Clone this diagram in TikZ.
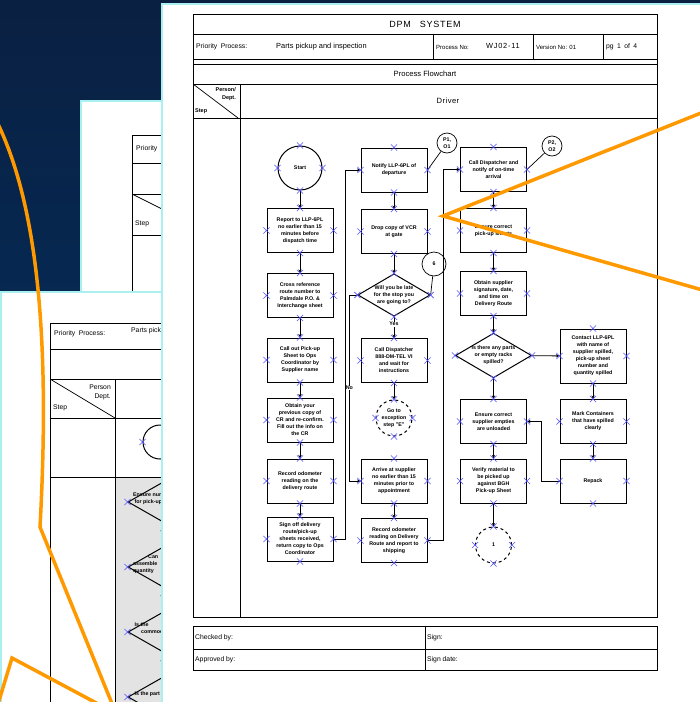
\documentclass[tikz,border=0pt]{standalone}
\usepackage{fontspec}
\setmainfont{Liberation Sans}
\usetikzlibrary{
    positioning,
    arrows.meta,
    shapes.geometric,
    shapes.misc,
}
\definecolor{navytop}{RGB}{10,32,66}
\definecolor{navybot}{RGB}{0,51,102}
\definecolor{pageedge}{RGB}{170,240,240}
\definecolor{callorange}{RGB}{255,153,0}
\definecolor{anchorblue}{RGB}{80,80,255}
\newcommand{\boxfont}{\fontsize{5.3}{7}\selectfont\bfseries}
\newcommand{\cellfont}{\fontsize{6.8}{8}\selectfont}
\tikzset{
    % Flowchart node styles
    flowbox/.style={rectangle, draw, line width=1pt, minimum width=66pt,
                    minimum height=44pt, inner sep=1pt, align=center, font=\boxfont},
    decision/.style={diamond, draw, line width=1pt, minimum width=71pt,
                     minimum height=42pt, inner sep=0pt, aspect=1.7, align=center, font=\boxfont},
    terminal/.style={circle, draw, line width=1pt, minimum size=44pt,
                     inner sep=0pt, align=center, font=\boxfont},
    refcircle/.style={circle, draw, line width=0.7pt, minimum size=20pt,
                      inner sep=0pt, align=center, font=\boxfont},
    xmark/.style={cross out, draw=anchorblue, minimum size=5.5pt, inner sep=0pt, line width=0.6pt},
    % Connector styles
    flow/.style={-{Stealth[length=3.5pt, width=3.2pt]}, line width=0.9pt},
    link/.style={line width=0.7pt},
    % Form styles
    page/.style={draw=pageedge, line width=2.5pt, fill=white},
    form/.style={line width=1pt},
    cell/.style={font=\cellfont, anchor=west, inner sep=1pt},
    orange line/.style={callorange, line width=3.5pt},
}

\begin{document}
\begin{tikzpicture}[x=1pt, y=-1pt]
    \useasboundingbox (0,0) rectangle (700,702);
    \clip (0,0) rectangle (700,702);
    \shade[top color=navytop, bottom color=navybot] (0,0) rectangle (700,702);

    % Back page
    \draw[page] (81,101) rectangle (720,720);
    \draw[form] (132,135) rectangle (720,720);
    \foreach \y in {163,194,235} {
        \draw[form] (132,\y) -- (720,\y);
    }
    \draw[link] (132,194) -- (172,214);
    \node[cell] at (135,149) {Priority};
    \node[cell] at (134,224) {Step};

    % Middle page
    \draw[page] (1,292) rectangle (720,720);
    \fill[gray!22] (115,477) rectangle (720,720);
    \draw[form] (50,323) rectangle (720,720);
    \foreach \y in {349,379,418,477} {
        \draw[form] (50,\y) -- (720,\y);
    }
    \draw[form] (115,379) -- (115,720);
    \draw[link] (50,379) -- (115,418);
    \node[cell] at (53,334) {Priority\enspace Process:};
    \node[cell] at (130,331) {Parts pickup and inspection};
    \node[cell, anchor=east] at (112,387) {Person};
    \node[cell, anchor=east] at (112,397) {Dept.};
    \node[cell] at (52,408) {Step};
    \node[terminal, minimum size=34pt] (ostart) at (160,442) {};
    \node[xmark] at (ostart.west) {};
    \foreach \y/\t in {502/{Ensure number\\\ for pick-up},
                       567/{\hspace{15pt}Can\\assemble\\quantity},
                       632/{\ Is the\\\hspace{8pt}commodity},
                       697/{\ Is the part}} {
        \node[decision, minimum width=84pt, minimum height=48pt] (od\y) at (170,\y) {};
        \node[font=\boxfont, align=left, anchor=west, inner sep=0pt] at (133,\y-3) {\t};
        \node[xmark] at (od\y.west) {};
    }
    \foreach \y in {533,598,663} {
        \node[font=\boxfont, fill=gray!22, inner sep=0.5pt] at (165,\y) {Yes};
    }

    % Front page
    \draw[page] (162,4) rectangle (720,720);
    \draw[form] (193,14) rectangle (657,617);
    \foreach \y in {34,59,64,84,118} {
        \draw[form] (193,\y) -- (657,\y);
    }
    \foreach \x in {433,533,603} {
        \draw[form] (\x,34) -- (\x,59);
    }
    \draw[form] (240,84) -- (240,617);
    \draw[link] (193,84) -- (238,118);
    \node[font=\fontsize{9}{10}\selectfont\addfontfeatures{LetterSpace=8}] at (425,24) {DPM\quad SYSTEM};
    \node[cell] at (195,47) {Priority\enspace Process:};
    \node[cell, font=\fontsize{7.4}{8}\selectfont] at (275,47) {Parts pickup and inspection};
    \node[cell, font=\fontsize{6}{7}\selectfont] at (435,47) {Process No:};
    \node[cell, font=\fontsize{7.4}{8}\selectfont\addfontfeatures{LetterSpace=10}] at (485,46) {WJ02-11};
    \node[cell, font=\fontsize{6}{7}\selectfont] at (535,47) {Version No: 01};
    \node[cell] at (605,47) {pg\enspace 1\enspace of\enspace 4};
    \node[font=\fontsize{7.6}{9}\selectfont] at (425,74) {Process Flowchart};
    \node[cell, font=\fontsize{5.5}{6}\selectfont\bfseries, anchor=east] at (237,90) {Person/};
    \node[cell, font=\fontsize{5.5}{6}\selectfont\bfseries, anchor=east] at (237,98) {Dept.};
    \node[cell, font=\fontsize{5.5}{6}\selectfont\bfseries] at (194,111) {Step};
    \node[font=\fontsize{7.6}{9}\selectfont\addfontfeatures{LetterSpace=6}] at (448,101) {Driver};

    % Sign-off rows
    \draw[form] (193,626) rectangle (657,670);
    \draw[form] (193,649) -- (657,649);
    \draw[form] (425,626) -- (425,670);
    \node[cell] at (194,638) {Checked by:};
    \node[cell] at (426,638) {Sign:};
    \node[cell] at (194,660) {Approved by:};
    \node[cell] at (426,660) {Sign date:};

    % Column 1
    \node[terminal] (start) at (300,168) {Start};
    \node[flowbox] (report) at (300,230.5) {Report to LLP-6PL\\no earlier than 15\\minutes before\\dispatch time};
    \node[flowbox] (crossref) at (300,295.5) {Cross reference\\route number to\\Palmdale P.O. \&\\Interchange sheet};
    \node[flowbox] (callout) at (300,360) {Call out Pick-up\\Sheet to Ops\\Coordinator by\\Supplier name};
    \node[flowbox] (obtain) at (300,420) {Obtain your\\previous copy of\\CR and re-confirm.\\Fill out the info on\\the CR};
    \node[flowbox] (recodo) at (300,481) {Record odometer\\reading on the\\delivery route};
    \node[flowbox] (signoff) at (300,539) {Sign off delivery\\route/pick-up\\sheets received,\\return copy to Ops\\Coordinator};

    % Column 2
    \node[flowbox] (notify) at (394,170) {Notify LLP-6PL of\\departure};
    \node[refcircle] (pone) at (447,143) {P1,\\O1};
    \node[flowbox] (dropcopy) at (394,231.5) {Drop copy of VCR\\at gate};
    \node[refcircle, minimum size=24pt] (six) at (434,264) {6};
    \node[decision] (late) at (394,295) {Will you be late\\for the stop you\\are going to?};
    \node[flowbox] (calldisp) at (394,360.5) {Call Dispatcher\\888-DM-TEL VI\\and wait for\\instructions};
    \node[terminal, minimum size=36pt, dashed] (gotoexc) at (394,418) {Go to\\exception\\step "E"};
    \node[flowbox] (arrive) at (394,481) {Arrive at supplier\\no earlier than 15\\minutes prior to\\appointment};
    \node[flowbox] (recroute) at (394,540.5) {Record odometer\\reading on Delivery\\Route and report to\\shipping};

    % Column 3
    \node[flowbox] (ontime) at (493.5,169.5) {Call Dispatcher and\\notify of on-time\\arrival};
    \node[refcircle] (ptwo) at (552,146) {P2,\\O2};
    \node[flowbox] (ensure) at (493.5,230.5) {Ensure correct\\pick-up sheets};
    \node[flowbox] (obtainsig) at (493.5,293.5) {Obtain supplier\\signature, date,\\and time on\\Delivery Route};
    \node[decision] (spilled) at (493.5,355.5) {Is there any parts\\or empty racks\\spilled?};
    \node[flowbox] (ensureemp) at (493.5,421.5) {Ensure correct\\supplier empties\\are unloaded};
    \node[flowbox] (verify) at (493.5,481) {Verify material to\\be picked up\\against BGH\\Pick-up Sheet};
    \node[terminal, minimum size=36pt, dashed] (finish) at (493.5,545) {1};

    % Column 4
    \node[flowbox, minimum height=54pt] (contact) at (593,356) {Contact LLP-6PL\\with name of\\supplier spilled,\\pick-up sheet\\number and\\quantity spilled};
    \node[flowbox] (mark) at (593,421.5) {Mark Containers\\that have spilled\\clearly};
    \node[flowbox] (repack) at (593,481) {Repack};

    % Connectors
    \foreach \a/\b in {start/report, report/crossref, crossref/callout, callout/obtain,
                       obtain/recodo, recodo/signoff, notify/dropcopy, dropcopy/late,
                       calldisp/gotoexc, arrive/recroute, ontime/ensure, ensure/obtainsig,
                       obtainsig/spilled, spilled/contact, spilled/ensureemp, contact/mark,
                       mark/repack, ensureemp/verify, verify/finish} {
        \draw[flow] (\a) -- (\b);
    }
    \draw[flow] (late) -- node[pos=0.35, fill=white, font=\boxfont, inner sep=0.5pt] {Yes} (calldisp);
    \draw[flow] (late.west) -- ++(-8,0) |- node[pos=0.25, fill=white, font=\boxfont, inner sep=0.5pt] {No} (arrive.west);
    \draw[flow] (signoff.east) -- ++(12,0) |- (notify.west);
    \draw[flow] (recroute.east) -- ++(16,0) |- (ontime.west);
    \draw[flow] (repack.west) -- ++(-18,0) |- (ensureemp.east);
    \draw[link] (pone) -- (notify.east);
    \draw[link] (ptwo) -- (ontime.east);
    \draw[link] (six) -- (late.east);

    % Anchor marks
    \foreach \n in {start,report,crossref,callout,obtain,recodo,signoff,
                    notify,dropcopy,late,calldisp,gotoexc,arrive,recroute,
                    ontime,ensure,obtainsig,spilled,ensureemp,verify,finish,
                    contact,mark,repack} {
        \foreach \a in {north,south,east,west} {
            \node[xmark] at (\n.\a) {};
        }
    }

    % Callout lines
    \draw[orange line, line join=miter] (706,111) -- (443,216) -- (706,291);
    \draw[orange line] (-3,122) .. controls (45,220) and (48,380) .. (40,527) -- (113,706);
    \draw[orange line] (-2,704) -- (12,658) -- (102,706);
\end{tikzpicture}
\end{document}
